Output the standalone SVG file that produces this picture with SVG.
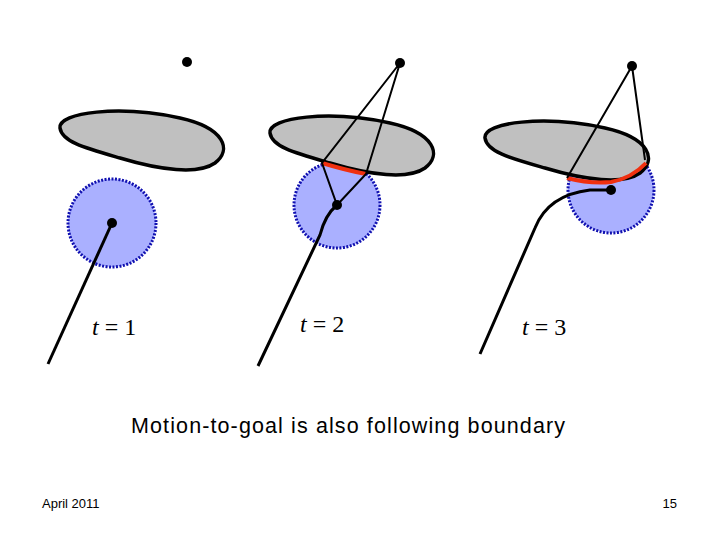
<svg xmlns="http://www.w3.org/2000/svg" width="720" height="540" viewBox="0 0 720 540">
<style>
.blob{fill:#c0c0c0;stroke:#000;stroke-width:3.5}
.disk{fill:#aab0ff;stroke:#1010b0;stroke-width:3;stroke-dasharray:2 1.5}
.ln{stroke:#000;stroke-width:2;fill:none}
.path{stroke:#000;stroke-width:3;fill:none}
.red{stroke:#f03010;stroke-width:4;fill:none}
.t{font-family:"Liberation Serif",serif;font-size:24px}
.s{font-family:"Liberation Sans",sans-serif}
</style>
<defs>
<path id="b" d="M60,128 C58,112 120,105 180,118 C225,128 232,150 215,163 C198,175 160,170 120,158 C85,148 62,142 60,128 Z"/>
</defs>
<g id="panel1">
<use href="#b" class="blob"/>
<circle cx="112" cy="223" r="44" class="disk"/>
<line x1="112" y1="223" x2="48" y2="364" class="path"/>
<circle cx="112" cy="223" r="5"/>
<circle cx="187" cy="62" r="5"/>
<text x="92" y="335" class="t"><tspan font-style="italic">t</tspan> = 1</text>
</g>
<g id="panel2">
<circle cx="337" cy="205" r="43" class="disk"/>
<use href="#b" class="blob" transform="translate(210,5)"/>
<path d="M322,163 Q345,170 366,174" class="red"/>
<path class="ln" d="M400,63 L322,163 L337,205 L366,174 L400,63"/>
<path d="M337,205 Q325,215 320,235 L258,366" class="path"/>
<circle cx="337" cy="205" r="5"/>
<circle cx="400" cy="63" r="5"/>
<text x="300" y="332" class="t"><tspan font-style="italic">t</tspan> = 2</text>
</g>
<g id="panel3">
<circle cx="611" cy="190" r="43" class="disk"/>
<use href="#b" class="blob" transform="translate(425,10)"/>
<path d="M567,178 Q590,184 611,182 Q632,178 646,163" class="red"/>
<path class="ln" d="M632,66 L567,178 M632,66 L645,160"/>
<path d="M480,354 L535,228 Q548,195 590,190 L611,190" class="path"/>
<circle cx="611" cy="190" r="5"/>
<circle cx="632" cy="66" r="5"/>
<text x="522" y="335" class="t"><tspan font-style="italic">t</tspan> = 3</text>
</g>
<text x="131" y="433" class="s" font-size="21.5" textLength="434" lengthAdjust="spacing">Motion-to-goal is also following boundary</text>
<text x="42" y="508" class="s" font-size="13">April 2011</text>
<text x="677" y="508" class="s" font-size="13" text-anchor="end">15</text>
</svg>
